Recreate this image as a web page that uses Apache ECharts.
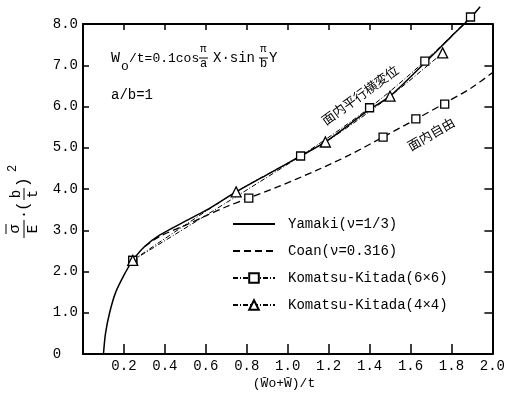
<!DOCTYPE html>
<html>
<head>
<meta charset="utf-8">
<script src="https://cdn.jsdelivr.net/npm/echarts@6/dist/echarts.min.js"></script>
<style>
  html, body { margin: 0; padding: 0; background: #fff; }
  #chart { width: 508px; height: 397px; }
</style>
</head>
<body>
<div id="chart"></div>
<script>
// Yamaki (v=1/3), solid curve
var yamakiX = [0.10, 0.11, 0.13, 0.16, 0.21, 0.243, 0.30, 0.374, 0.50, 0.60, 0.748, 0.90, 1.063, 1.184, 1.40, 1.50, 1.67, 1.80, 1.893, 1.94];
var yamakiY = [0, 0.5, 1.0, 1.5, 2.0, 2.27, 2.60, 2.88, 3.22, 3.48, 3.93, 4.35, 4.80, 5.14, 5.93, 6.25, 7.06, 7.70, 8.15, 8.42];
// Coan (v=0.316), dashed curve
var coanX = [0.30, 0.374, 0.50, 0.60, 0.70, 0.81, 0.95, 1.14, 1.30, 1.466, 1.626, 1.767, 1.90, 2.0];
var coanY = [2.60, 2.85, 3.12, 3.35, 3.57, 3.78, 4.05, 4.45, 4.82, 5.26, 5.69, 6.08, 6.46, 6.82];
// Komatsu-Kitada 6x6 (in-plane parallel displacement)
var km6X = [0.243, 1.063, 1.40, 1.67, 1.893];
var km6Y = [2.27, 4.80, 5.97, 7.10, 8.17];
// Komatsu-Kitada 6x6 (in-plane free)
var km6FreeX = [0.243, 0.81, 1.466, 1.626, 1.767];
var km6FreeY = [2.27, 3.78, 5.26, 5.70, 6.06];
// Komatsu-Kitada 4x4
var km4X = [0.243, 0.748, 1.184, 1.50, 1.757];
var km4Y = [2.27, 3.93, 5.14, 6.25, 7.30];

var names = ['Yamaki(ν=1/3)', 'Coan(ν=0.316)', 'Komatsu-Kitada(6×6)', 'Komatsu-Kitada(4×4)'];

function pairs(xs, ys){
  var out = [];
  for(var i = 0; i < xs.length; i++){ out.push([xs[i], ys[i]]); }
  return out;
}

var FONT = 'Liberation Mono';
var black = '#000';

function tick(len){
  return { show: true, inside: true, length: len, lineStyle: { color: black, width: 1.5 } };
}
function line(){
  return { show: true, onZero: false, lineStyle: { color: black, width: 2 } };
}

var option = {
  backgroundColor: '#fff',
  animation: false,
  color: [black],
  grid: { left: 83, right: 13, top: 24, bottom: 43 },
  xAxis: [
    {
      type: 'value', min: 0, max: 2, interval: 0.2, position: 'bottom',
      axisLine: line(), splitLine: { show: false },
      axisTick: tick(10),
      axisLabel: {
        color: black, fontFamily: FONT, fontSize: 14, margin: 5,
        formatter: function(v){ return v === 0 ? '' : v.toFixed(1); }
      }
    },
    {
      type: 'value', min: 0, max: 2, interval: 0.2, position: 'top',
      axisLine: line(), splitLine: { show: false },
      axisTick: tick(6),
      axisLabel: { show: false }
    }
  ],
  yAxis: [
    {
      type: 'value', min: 0, max: 8, interval: 1, position: 'left',
      axisLine: line(), splitLine: { show: false },
      axisTick: tick(6),
      axisLabel: {
        color: black, fontFamily: FONT, fontSize: 14, margin: 5,
        formatter: function(v){ return v === 0 ? '0  ' : v.toFixed(1); }
      }
    },
    {
      type: 'value', min: 0, max: 8, interval: 1, position: 'right',
      axisLine: line(), splitLine: { show: false },
      axisTick: tick(8),
      axisLabel: { show: false }
    }
  ],
  legend: {
    orient: 'vertical', left: 227, top: 212,
    itemWidth: 42, itemHeight: 12, itemGap: 13,
    data: [
      { name: names[0], itemStyle: { opacity: 0 } },
      { name: names[1], itemStyle: { opacity: 0 } },
      { name: names[2] },
      { name: names[3] }
    ],
    textStyle: { color: black, fontFamily: FONT, fontSize: 14, padding: [0, 0, 0, 8] }
  },
  series: [
    {
      name: names[1], type: 'line', data: pairs(coanX, coanY),
      smooth: 0.3, symbol: 'none', clip: false,
      itemStyle: { color: black },
      lineStyle: { color: black, width: 1.3, type: [7, 4] }
    },
    {
      name: names[0], type: 'line', data: pairs(yamakiX, yamakiY),
      smooth: 0.3, symbol: 'none', clip: false,
      itemStyle: { color: black },
      lineStyle: { color: black, width: 1.5, type: 'solid' }
    },
    {
      name: names[2], type: 'line', data: pairs(km6X, km6Y),
      smooth: 0.3, symbol: 'rect', symbolSize: 8, clip: false,
      itemStyle: { color: '#fff', borderColor: black, borderWidth: 1.3 },
      lineStyle: { color: black, width: 1, type: [5, 2, 1, 2] }
    },
    {
      name: 'free6x6', type: 'line', data: pairs(km6FreeX, km6FreeY),
      symbol: 'rect', symbolSize: 8, clip: false,
      itemStyle: { color: '#fff', borderColor: black, borderWidth: 1.3 },
      lineStyle: { width: 0, opacity: 0 }
    },
    {
      name: names[3], type: 'line', data: pairs(km4X, km4Y),
      smooth: 0.3, symbol: 'triangle', symbolSize: 10, clip: false,
      itemStyle: { color: '#fff', borderColor: black, borderWidth: 1.3 },
      lineStyle: { color: black, width: 1, type: [5, 2, 1, 2] }
    }
  ],
  graphic: [
    // formula
    { type: 'text', left: 111, top: 51, style: { text: 'W', fill: black, font: '15px ' + FONT } },
    { type: 'text', left: 121, top: 60, style: { text: 'o', fill: black, font: '13px ' + FONT } },
    { type: 'text', left: 129, top: 52, style: { text: '/t=0.1cos', fill: black, font: '13px ' + FONT } },
    { type: 'text', left: 200, top: 44, style: { text: 'π', fill: black, font: '11px ' + FONT } },
    { type: 'line', shape: { x1: 199, y1: 58, x2: 208, y2: 58 }, style: { stroke: black, lineWidth: 1 } },
    { type: 'text', left: 200, top: 58, style: { text: 'a', fill: black, font: '12px ' + FONT } },
    { type: 'text', left: 213, top: 51, style: { text: 'X·sin', fill: black, font: '14px ' + FONT } },
    { type: 'text', left: 260, top: 44, style: { text: 'π', fill: black, font: '11px ' + FONT } },
    { type: 'line', shape: { x1: 259, y1: 58, x2: 268, y2: 58 }, style: { stroke: black, lineWidth: 1 } },
    { type: 'text', left: 260, top: 58, style: { text: 'b', fill: black, font: '12px ' + FONT } },
    { type: 'text', left: 269, top: 51, style: { text: 'Y', fill: black, font: '14px ' + FONT } },
    { type: 'text', left: 111, top: 88, style: { text: 'a/b=1', fill: black, font: '14px ' + FONT } },
    // curve annotations
    {
      type: 'text', x: 360, y: 95, rotation: 36 * Math.PI / 180,
      style: { text: '面内平行横変位', fill: black, font: '13px "Noto Sans CJK JP"', align: 'center', verticalAlign: 'middle' }
    },
    {
      type: 'text', x: 431, y: 134, rotation: 30 * Math.PI / 180,
      style: { text: '面内自由', fill: black, font: '13px "Noto Sans CJK JP"', align: 'center', verticalAlign: 'middle' }
    },
    // x axis name
    {
      type: 'text', x: 284, y: 384,
      style: { text: '(W\u0304o+W\u0304)/t', fill: black, font: '13px ' + FONT, align: 'center', verticalAlign: 'middle' }
    },
    // y axis name, rotated
    {
      type: 'group', x: 24, y: 238, rotation: Math.PI / 2,
      children: [
        { type: 'line', shape: { x1: 4, y1: -18, x2: 14, y2: -18 }, style: { stroke: black, lineWidth: 1 } },
        { type: 'text', x: 9, y: -1, style: { text: 'σ', fill: black, font: '15px ' + FONT, align: 'center', verticalAlign: 'bottom' } },
        { type: 'line', shape: { x1: 0, y1: 0, x2: 18, y2: 0 }, style: { stroke: black, lineWidth: 1 } },
        { type: 'text', x: 9, y: 2, style: { text: 'E', fill: black, font: '14px ' + FONT, align: 'center', verticalAlign: 'top' } },
        { type: 'text', x: 19, y: 0, style: { text: '·', fill: black, font: '15px ' + FONT, align: 'left', verticalAlign: 'middle' } },
        { type: 'text', x: 27, y: 0, style: { text: '(', fill: black, font: '16px ' + FONT, align: 'left', verticalAlign: 'middle' } },
        { type: 'text', x: 44, y: -1, style: { text: 'b', fill: black, font: '14px ' + FONT, align: 'center', verticalAlign: 'bottom' } },
        { type: 'line', shape: { x1: 38, y1: 0, x2: 50, y2: 0 }, style: { stroke: black, lineWidth: 1 } },
        { type: 'text', x: 44, y: 2, style: { text: 't', fill: black, font: '14px ' + FONT, align: 'center', verticalAlign: 'top' } },
        { type: 'text', x: 51, y: 0, style: { text: ')', fill: black, font: '16px ' + FONT, align: 'left', verticalAlign: 'middle' } },
        { type: 'text', x: 66, y: -11, style: { text: '2', fill: black, font: '12px ' + FONT, align: 'left', verticalAlign: 'middle' } }
      ]
    }
  ]
};

var myChart = echarts.init(document.getElementById('chart'));
myChart.setOption(option);
window.addEventListener('resize', function(){ myChart.resize(); }, false);
</script>
</body>
</html>
